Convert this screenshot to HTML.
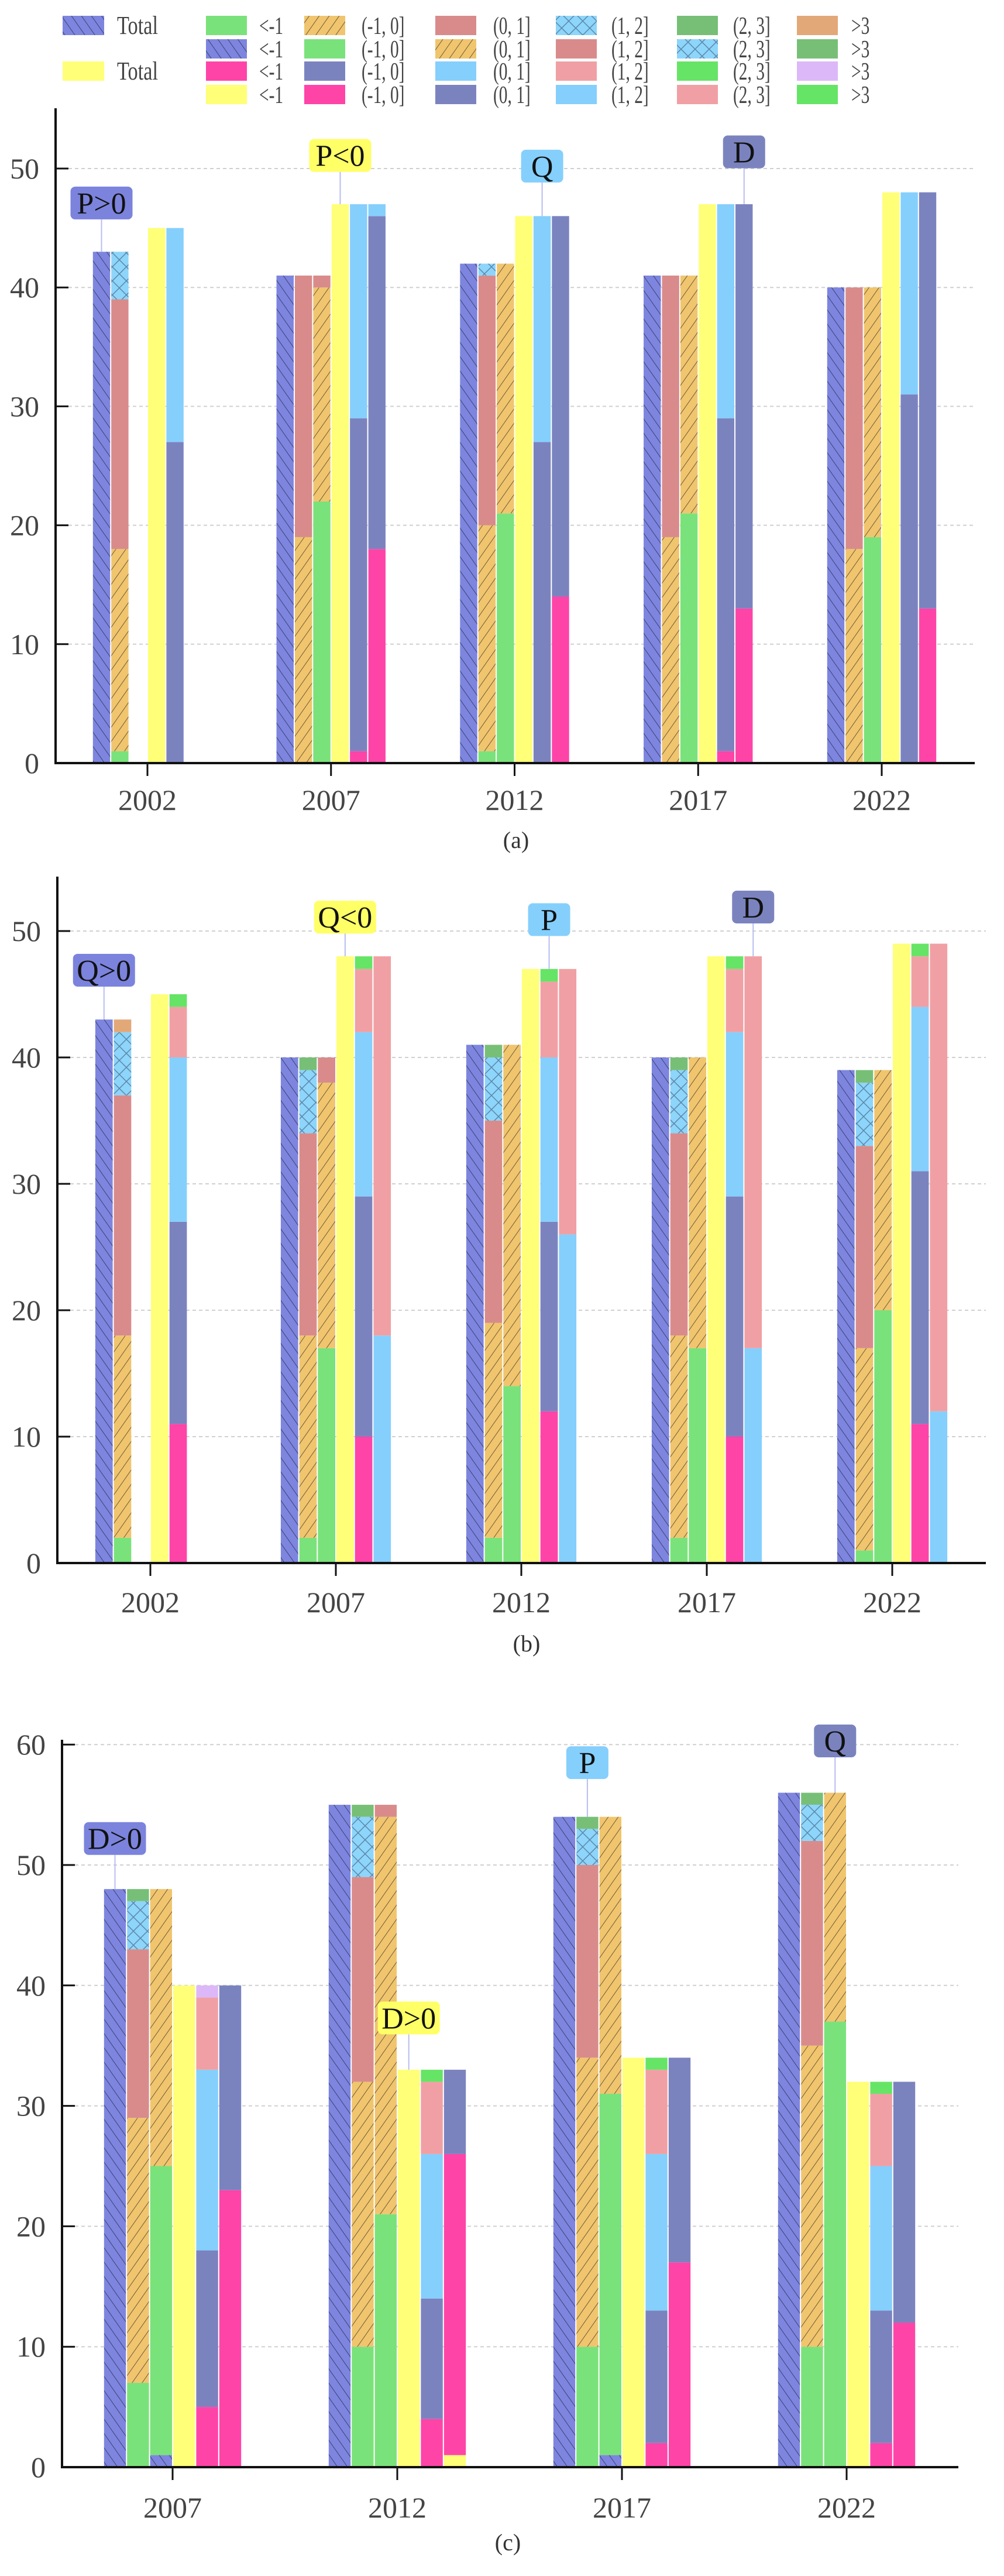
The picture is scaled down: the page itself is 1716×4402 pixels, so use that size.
<!DOCTYPE html>
<html><head><meta charset="utf-8"><style>
html,body{margin:0;padding:0;background:#fff;}
svg{display:block;font-family:"Liberation Serif",serif;}
</style></head><body>
<svg id="root" xmlns="http://www.w3.org/2000/svg" width="1716" height="4402" viewBox="0 0 1716 4402">
<defs>
<pattern id="hBlue" patternUnits="userSpaceOnUse" width="14" height="14" patternTransform="rotate(-35)">
<rect width="14" height="14" fill="#7d85df"/><line x1="0" y1="0" x2="0" y2="14" stroke="#3d4170" stroke-width="2"/></pattern>
<pattern id="hOrange" patternUnits="userSpaceOnUse" width="14" height="14" patternTransform="rotate(35)">
<rect width="14" height="14" fill="#f0c56e"/><line x1="0" y1="0" x2="0" y2="14" stroke="#6e5c3a" stroke-width="2"/></pattern>
<pattern id="hCyan" patternUnits="userSpaceOnUse" width="24" height="24">
<rect width="24" height="24" fill="#8dd5fa"/><path d="M0 0L24 24M24 0L0 24" stroke="#5b86a8" stroke-width="1.5"/></pattern>
</defs>
<g id="legend"></g>
<g id="chartA"></g>
<g id="chartB"></g>
<g id="chartC"></g>
</svg>
<script>
// ---- Chart (a) data ----
const yearsA = ['2002','2007','2012','2017','2022'];
const totalA1 = [43,41,42,41,40];
const totalA2 = [45,47,46,47,48];
const rowA1 = [[1,17,21,4,0,0],[0,19,22,0,0,0],[1,19,21,1,0,0],[0,19,22,0,0,0],[0,18,22,0,0,0]];
const rowA2 = [[0,0,0,0,0,0],[0,22,18,1,0,0],[0,21,21,0,0,0],[0,21,20,0,0,0],[0,19,21,0,0,0]];
const rowA3 = [[0,27,18,0,0,0],[1,28,18,0,0,0],[0,27,19,0,0,0],[1,28,18,0,0,0],[0,31,17,0,0,0]];
const rowA4 = [[0,0,0,0,0,0],[0,18,28,1,0,0],[0,14,32,0,0,0],[0,13,34,0,0,0],[0,13,35,0,0,0]];
const ticksA = [0,10,20,30,40,50];
// ---- Chart (b) data ----
const yearsB = ['2002','2007','2012','2017','2022'];
const totalB1 = [43,40,41,40,39];
const totalB2 = [45,48,47,48,49];
const rowB1 = [[2,16,19,5,0,1],[2,16,16,5,1,0],[2,17,16,5,1,0],[2,16,16,5,1,0],[1,16,16,5,1,0]];
const rowB2 = [[0,0,0,0,0,0],[0,17,21,2,0,0],[0,14,27,0,0,0],[0,17,23,0,0,0],[0,20,19,0,0,0]];
const rowB3 = [[11,16,13,4,1,0],[10,19,13,5,1,0],[12,15,13,6,1,0],[10,19,13,5,1,0],[11,20,13,4,1,0]];
const rowB4 = [[0,0,0,0,0,0],[0,0,0,18,30,0],[0,0,0,26,21,0],[0,0,0,17,31,0],[0,0,0,12,37,0]];
const ticksB = [0,10,20,30,40,50];
// ---- Chart (c) data ----
const yearsC = ['2007','2012','2017','2022'];
const totalC1 = [48,55,54,56];
const totalC2 = [40,33,34,32];
const rowC1 = [[7,22,14,4,1,0],[10,22,17,5,1,0],[10,24,16,3,1,0],[10,25,17,3,1,0]];
const rowC2 = [[1,24,23,0,0,0],[0,21,33,1,0,0],[1,30,23,0,0,0],[0,37,19,0,0,0]];
const rowC3 = [[5,13,15,6,0,1],[4,10,12,6,1,0],[2,11,13,7,1,0],[2,11,12,6,1,0]];
const rowC4 = [[0,23,17,0,0,0],[1,25,7,0,0,0],[0,17,17,0,0,0],[0,12,20,0,0,0]];
const ticksC = [0,10,20,30,40,50,60];
// annotations: label, year index, slot, value
const annoA = [['P>0',0,0,47.1],['P<0',1,3,51.1],['Q',2,4,50.2],['D',3,5,51.4]];
const annoB = [['Q>0',0,0,46.9],['Q<0',1,3,51.1],['P',2,4,50.9],['D',3,5,51.9]];
const annoC = [['D>0',0,0,52.2],['D>0',1,3,37.3],['P',2,1,58.5],['Q',3,2,60.3]];

const NS='http://www.w3.org/2000/svg';
const C={blueH:'url(#hBlue)',green:'#7ae27a',orange:'url(#hOrange)',rosy:'#d98b8b',cyanX:'url(#hCyan)',dgreen:'#77bf77',tan:'#e3a878',
magenta:'#ff44a8',slate:'#7b83bf',sky:'#85cffc',lpink:'#f0a0a4',bgreen:'#66e466',lav:'#dcb8f8',yellow:'#ffff78'};
const row1C=[C.green,C.orange,C.rosy,C.cyanX,C.dgreen,C.tan];
const row2C=[C.blueH,C.green,C.orange,C.rosy,C.cyanX,C.dgreen];
const row3C=[C.magenta,C.slate,C.sky,C.lpink,C.bgreen,C.lav];
const row4C=[C.yellow,C.magenta,C.slate,C.sky,C.lpink,C.bgreen];
const labs=['<-1','(-1, 0]','(0, 1]','(1, 2]','(2, 3]','>3'];
const segNames=['lt-neg1','neg1-0','0-1','1-2','2-3','gt3'];
const boxCol={'blue':'#7b83dd','yellow':'#ffff66','sky':'#85cffc','slate':'#7b83bf'};
function mk(tag,attrs,parent){const e=document.createElementNS(NS,tag);for(const k in attrs)e.setAttribute(k,attrs[k]);parent.appendChild(e);return e;}

// legend
(function(){
const g=document.getElementById('legend');
const rowsY=[27,67,105,145];
const sx=[352,520,744,950,1157,1362];
const lx=[443,618,843,1045,1253,1455];
const rows=[row1C,row2C,row3C,row4C];
[[0,C.blueH],[2,C.yellow]].forEach(([r,col])=>{
 const s=mk('rect',{x:107,y:rowsY[r],width:71,height:33,fill:col},g);
 
 
 const t=mk('text',{x:0,y:0,'font-size':44,fill:'#444',transform:'translate(200,'+(rowsY[r]+31)+') scale(0.78,1)'},g);t.textContent='Total';
 
 
});
rows.forEach((cols,r)=>{cols.forEach((col,i)=>{
 const s=mk('rect',{x:sx[i],y:rowsY[r],width:70,height:33,fill:col},g);
 
 
 const t=mk('text',{x:0,y:0,'font-size':42,fill:'#444',transform:'translate('+lx[i]+','+(rowsY[r]+31)+') scale(0.7,1)'},g);t.textContent=labs[i];
 
 
});});
})();

function drawChart(id,cfg,years,t1,t2,r1,r2,r3,r4,ticks,anno){
 const g=document.getElementById(id);
 const y=v=>cfg.y0-v*cfg.ppu;
 const xc=i=>cfg.tick0+i*cfg.step;
 const slotX=(i,s)=>xc(i)+(s-3)*cfg.sw;
 ticks.forEach(v=>{
  if(v>0){const l=mk('line',{x1:cfg.ax,x2:cfg.xend,y1:y(v),y2:y(v),stroke:'#d0d0d0','stroke-width':2,'stroke-dasharray':'6 5'},g);
   
   }
  const tk=mk('line',{x1:cfg.ax,x2:cfg.ax+22,y1:y(v),y2:y(v),stroke:'#111','stroke-width':3},g);
  
  
  const t=mk('text',{x:cfg.ax-28,y:y(v)+17,'font-size':50,'text-anchor':'end',fill:'#444'},g);t.textContent=v;
  
  
 });
 function seg(i,s,v0,v,col,name){
  if(v<=0)return;
  const r=mk('rect',{x:slotX(i,s)+1,y:y(v0+v),width:cfg.sw-2,height:v*cfg.ppu,fill:col},g);
  
  
 }
 years.forEach((yr,i)=>{
  seg(i,0,0,t1[i],C.blueH,'bar-total-blue-'+yr);
  seg(i,3,0,t2[i],C.yellow,'bar-total-yellow-'+yr);
  [[1,r1[i],row1C,'r1'],[2,r2[i],row2C,'r2'],[4,r3[i],row3C,'r3'],[5,r4[i],row4C,'r4']].forEach(([s,vals,cols,nm])=>{
   let acc=0;vals.forEach((v,k)=>{seg(i,s,acc,v,cols[k],'bar-'+nm+'-'+segNames[k]+'-'+yr);acc+=v;});
  });
  const tk=mk('line',{x1:xc(i),x2:xc(i),y1:cfg.y0,y2:cfg.y0+22,stroke:'#111','stroke-width':3},g);
  
  
  const t=mk('text',{x:xc(i),y:cfg.labY+17,'font-size':50,'text-anchor':'middle',fill:'#444'},g);t.textContent=yr;
  
  
 });
 const ya=mk('line',{x1:cfg.ax,x2:cfg.ax,y1:cfg.top,y2:cfg.y0+2,stroke:'#111','stroke-width':4},g);
 
 
 const xa=mk('line',{x1:cfg.ax-2,x2:cfg.xend,y1:cfg.y0,y2:cfg.y0,stroke:'#111','stroke-width':4},g);
 
 
 anno.forEach(([txt,i,s,v])=>{
  const cx=slotX(i,s)+cfg.sw/2;
  const vals=[t1[i],r1[i].reduce((a,b)=>a+b,0),r2[i].reduce((a,b)=>a+b,0),t2[i],r3[i].reduce((a,b)=>a+b,0),r4[i].reduce((a,b)=>a+b,0)];
  const col=s===0?boxCol.blue:s===3?boxCol.yellow:(s===4||s===1)&&txt.length===1?boxCol.sky:boxCol.slate;
  const cy=y(v);const w=txt.length>1?106:72,h=56;
  const ln=mk('line',{x1:cx,x2:cx,y1:cy+h/2,y2:y(vals[s]),stroke:'#b8bdf0','stroke-width':2},g);
  
  
  const b=mk('rect',{x:cx-w/2,y:cy-h/2,width:w,height:h,rx:8,fill:col},g);
  
  
  const t=mk('text',{x:cx,y:cy+18,'font-size':52,'text-anchor':'middle',fill:'#111'},g);t.textContent=txt;
  
  
 });
 const cap=mk('text',{x:cfg.capX,y:cfg.capY+14,'font-size':40,'text-anchor':'middle',fill:'#333'},g);cap.textContent=cfg.cap;
 
 
}
drawChart('chartA',{ax:95,y0:1304,ppu:20.32,top:185,xend:1666,tick0:252,step:313.75,sw:31.4,labY:1367,capX:882,capY:1435,cap:'(a)'},
 yearsA,totalA1,totalA2,rowA1,rowA2,rowA3,rowA4,ticksA,annoA);
drawChart('chartB',{ax:98,y0:2671,ppu:21.6,top:1498,xend:1685,tick0:257,step:317,sw:31.7,labY:2738,capX:900,capY:2808,cap:'(b)'},
 yearsB,totalB1,totalB2,rowB1,rowB2,rowB3,rowB4,ticksB,annoB);
drawChart('chartC',{ax:106,y0:4216,ppu:20.58,top:2973,xend:1638,tick0:295,step:384,sw:39.4,labY:4285,capX:868,capY:4344,cap:'(c)'},
 yearsC,totalC1,totalC2,rowC1,rowC2,rowC3,rowC4,ticksC,annoC);
</script>
</body></html>
